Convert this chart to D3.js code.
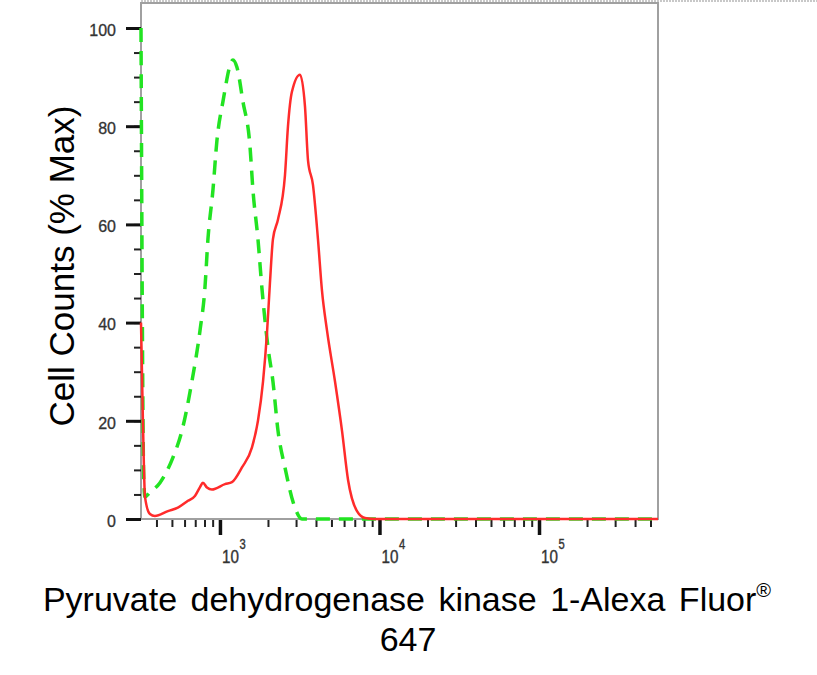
<!DOCTYPE html>
<html>
<head>
<meta charset="utf-8">
<script src="https://cdn.jsdelivr.net/npm/d3@7"></script>
<style>
  body { margin: 0; background: #fff; }
  svg text { font-family: Arial, "Liberation Sans", sans-serif; }
</style>
</head>
<body>
<svg id="chart"></svg>
<script>
// plot area in page pixels
var width = 817, height = 675;
var plot = { left: 141, right: 658, top: 3, bottom: 519 };

// sample (red, solid): fluorescence intensity and % of max
var sampleX = [320, 329, 339, 364, 391, 472, 545, 630, 697, 750, 782, 829, 891, 1075, 1189,
               1374, 1588, 1731, 1862, 1973, 2057, 2149, 2311, 2556, 2670, 2826, 3175, 3413,
               3566, 3831, 4115, 4361, 4688, 5263, 5821, 6350, 7229, 8114, 9372, 557000];
var sampleY = [40, 20, 4.5, 1, 0.6, 1.6, 2.3, 3.7, 4.7, 6.5, 7.4, 6.4, 6.0, 7.1, 7.5,
               10.5, 14.6, 20, 28, 38, 48, 57, 61, 70, 80, 87, 90.5, 84,
               73, 68, 57, 46.5, 38.4, 28, 18, 8, 1.6, 0.2, 0, 0];

// isotype control (green, dashed)
var controlX = [320, 333, 339, 364, 421, 507, 578, 667, 750, 805, 841, 904, 957, 1044, 1207,
                1278, 1394, 1542, 1610, 1731, 1833, 2000, 2149, 2311, 2556, 2953, 3266, 557000];
var controlY = [100, 8, 4.5, 5.4, 7.4, 12.5, 18, 28, 38.4, 47, 57, 67, 77, 85, 93.5,
                92, 85, 76, 67, 57, 47, 35, 28, 18, 10.5, 2.3, 0, 0];

var yMajor = [0, 20, 40, 60, 80, 100];
var yMinor = d3.range(0, 101, 5);
var xMajor = [1e3, 1e4, 1e5];
var xMinor = [400, 500, 600, 700, 800, 900, 2e3, 3e3, 4e3, 5e3, 6e3, 7e3, 8e3, 9e3,
              2e4, 3e4, 4e4, 5e4, 6e4, 7e4, 8e4, 9e4, 2e5, 3e5, 4e5, 5e5];

var xTitle = "Pyruvate dehydrogenase kinase 1-Alexa Fluor";
var yTitle = "Cell Counts (% Max)";

var x = d3.scaleLog().domain([320, 557000]).range([plot.left, plot.right]);
var y = d3.scaleLinear().domain([0, 100]).range([plot.bottom, 28]);

var svg = d3.select("#chart").attr("width", width).attr("height", height);

// faint dotted border along the top
svg.append("line")
    .attr("x1", plot.left).attr("x2", width)
    .attr("y1", 1).attr("y2", 1)
    .attr("stroke", "#c8c8c8").attr("stroke-width", 2)
    .attr("stroke-dasharray", "2,1");

// frame
svg.append("rect")
    .attr("x", plot.left).attr("y", plot.top)
    .attr("width", plot.right - plot.left).attr("height", plot.bottom - plot.top)
    .attr("fill", "none").attr("stroke", "#a0a0a0").attr("stroke-width", 2);

// x axis ticks (minor then major)
var xAxisG = svg.append("g").attr("transform", "translate(0," + (plot.bottom + 1) + ")");
xAxisG.append("g")
    .call(d3.axisBottom(x).tickValues(xMinor).tickSize(7).tickFormat(""))
    .call(function(g) {
      g.select(".domain").remove();
      g.selectAll(".tick line").attr("stroke", "#222").attr("stroke-width", 2);
    });
xAxisG.append("g")
    .call(d3.axisBottom(x).tickValues(xMajor).tickSize(15).tickFormat(""))
    .call(function(g) {
      g.select(".domain").remove();
      g.selectAll(".tick line").attr("stroke", "#111").attr("stroke-width", 3.5);
    });

// x tick labels: 10 with superscript exponent, a little condensed
xMajor.forEach(function(v) {
  var lab = svg.append("g")
      .attr("transform", "translate(" + (x(v) + 2) + "," + 563 + ") scale(0.8,1)");
  lab.append("text")
      .attr("font-size", 19).attr("fill", "#333")
      .attr("stroke", "#333").attr("stroke-width", 0.4)
      .text("10");
  lab.append("text")
      .attr("x", 22).attr("y", -14)
      .attr("font-size", 14).attr("fill", "#333")
      .attr("stroke", "#333").attr("stroke-width", 0.4)
      .text(Math.round(Math.log10(v)));
});

// y axis ticks
var yAxisG = svg.append("g").attr("transform", "translate(" + plot.left + ",0)");
yAxisG.append("g")
    .call(d3.axisLeft(y).tickValues(yMinor).tickSize(7).tickFormat(""))
    .call(function(g) {
      g.select(".domain").remove();
      g.selectAll(".tick line").attr("stroke", "#222").attr("stroke-width", 2);
    });
yAxisG.append("g")
    .call(d3.axisLeft(y).tickValues(yMajor).tickSize(15).tickPadding(10))
    .call(function(g) {
      g.select(".domain").remove();
      g.selectAll(".tick line").attr("stroke", "#111").attr("stroke-width", 3);
      g.selectAll(".tick text")
          .attr("font-size", 16).attr("fill", "#333")
          .attr("stroke", "#333").attr("stroke-width", 0.3)
          .attr("font-family", "Arial, 'Liberation Sans', sans-serif")
          .attr("dy", "0.45em");
    });

// histogram lines
var line = d3.line()
    .x(function(d) { return x(d[0]); })
    .y(function(d) { return y(d[1]); })
    .curve(d3.curveMonotoneX);

var sample = d3.zip(sampleX, sampleY);
var control = d3.zip(controlX, controlY);

svg.append("path")
    .datum(control)
    .attr("d", line)
    .attr("fill", "none")
    .attr("stroke", "#22e322")
    .attr("stroke-width", 3.5)
    .attr("stroke-dasharray", "14,9");

svg.append("path")
    .datum(sample)
    .attr("d", line)
    .attr("fill", "none")
    .attr("stroke", "#ff2b2b")
    .attr("stroke-width", 2.5)
    .attr("stroke-linejoin", "round");

// axis titles
var xt = svg.append("text")
    .attr("x", 407).attr("y", 611)
    .attr("text-anchor", "middle")
    .attr("font-size", 34).attr("fill", "#000")
    .attr("word-spacing", 4);
xt.append("tspan").text(xTitle);
xt.append("tspan").attr("font-size", 20).attr("dy", -14).text("\u00ae");

svg.append("text")
    .attr("x", 408).attr("y", 651)
    .attr("text-anchor", "middle")
    .attr("font-size", 34).attr("fill", "#000")
    .text("647");

svg.append("text")
    .attr("transform", "translate(74,266) rotate(-90)")
    .attr("text-anchor", "middle")
    .attr("font-size", 35).attr("fill", "#000")
    .text(yTitle);
</script>
</body>
</html>
